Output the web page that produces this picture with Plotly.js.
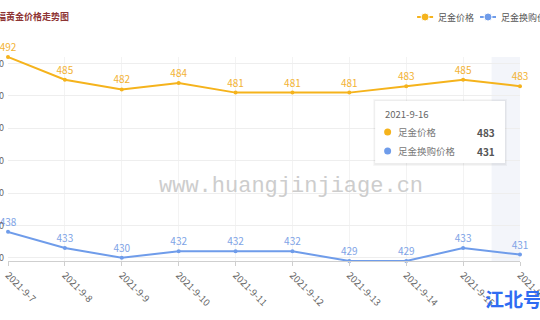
<!DOCTYPE html>
<html>
<head>
<meta charset="utf-8">
<script src="https://cdn.plot.ly/plotly-3.0.1.min.js"></script>
<style>html,body{margin:0;padding:0;background:#fff;}#chart{width:540px;height:320px;}</style>
</head>
<body>
<div id="chart"></div>
<script>
const dates = ["2021-9-7","2021-9-8","2021-9-9","2021-9-10","2021-9-11","2021-9-12","2021-9-13","2021-9-14","2021-9-15","2021-9-16"];
const goldPrice = [492,485,482,484,481,481,481,483,485,483];
const exchangePrice = [438,433,430,432,432,432,429,429,433,431];
const seriesNames = ["足金价格","足金换购价格"];
const yTicks = [430,440,450,460,470,480,490];
const hoverIndex = 9;

const orange = "#f5b31c";
const blue = "#6f9cea";
const W = 540, H = 320;
const m = {l: 7.5, r: 20, t: 57, b: 59};
const pw = W - m.l - m.r, ph = H - m.t - m.b;
const px = x => (x - m.l) / pw;
const py = y => (H - m.b - y) / ph;

const traces = [
  {x: dates, y: goldPrice, name: seriesNames[0], type: "scatter", mode: "lines+markers+text",
   line: {color: orange, width: 2}, marker: {color: orange, size: 4},
   text: goldPrice.map(String), textposition: "top center",
   textfont: {color: "#f2b233", size: 10, family: "Noto Sans CJK SC, sans-serif"}, cliponaxis: false, hoverinfo: "none"},
  {x: dates, y: exchangePrice, name: seriesNames[1], type: "scatter", mode: "lines+markers+text",
   line: {color: blue, width: 2}, marker: {color: blue, size: 4},
   text: exchangePrice.map(String), textposition: "top center",
   textfont: {color: "#7ea3e6", size: 10, family: "Noto Sans CJK SC, sans-serif"}, cliponaxis: false, hoverinfo: "none"}
];

const font = "Noto Sans CJK SC, sans-serif";
const shapes = [
  {type: "rect", xref: "x", yref: "paper", x0: hoverIndex - 0.5, x1: hoverIndex + 0.5, y0: 0, y1: 1,
   fillcolor: "#f3f5fa", line: {width: 0}, layer: "below"},
  {type: "rect", xref: "paper", yref: "paper", x0: px(373), x1: px(507), y0: py(166), y1: py(99),
   fillcolor: "rgba(0,0,0,0.035)", line: {width: 0}, layer: "above"},
  {type: "rect", xref: "paper", yref: "paper", x0: px(374), x1: px(506), y0: py(165), y1: py(100),
   fillcolor: "rgba(0,0,0,0.035)", line: {width: 0}, layer: "above"},
  {type: "rect", xref: "paper", yref: "paper", x0: px(375), x1: px(505), y0: py(163), y1: py(101),
   fillcolor: "#ffffff", line: {width: 0}, layer: "above"},
  {type: "circle", xref: "paper", yref: "paper", x0: px(384), x1: px(391), y0: py(135.5), y1: py(128.5),
   fillcolor: orange, line: {width: 0}, layer: "above"},
  {type: "circle", xref: "paper", yref: "paper", x0: px(384), x1: px(391), y0: py(154.5), y1: py(147.5),
   fillcolor: blue, line: {width: 0}, layer: "above"},
  {type: "line", xref: "paper", yref: "paper", x0: px(417), x1: px(433), y0: py(17), y1: py(17),
   line: {color: orange, width: 2}},
  {type: "circle", xref: "paper", yref: "paper", x0: px(421), x1: px(429), y0: py(21), y1: py(13),
   fillcolor: orange, line: {color: "#fff", width: 1}},
  {type: "line", xref: "paper", yref: "paper", x0: px(480), x1: px(496), y0: py(17), y1: py(17),
   line: {color: blue, width: 2}},
  {type: "circle", xref: "paper", yref: "paper", x0: px(484), x1: px(492), y0: py(21), y1: py(13),
   fillcolor: blue, line: {color: "#fff", width: 1}}
];

const ann = (x, y, text, opts) => Object.assign({xref: "paper", yref: "paper", x: px(x), y: py(y),
  text: text, showarrow: false, xanchor: "left", yanchor: "middle", font: {family: font, size: 9, color: "#555"}}, opts || {});

const annotations = [
  ann(-15, 16, "<b>大福黄金价格走势图</b>", {font: {family: font, size: 9, color: "#8e3434"}}),
  ann(436, 17, seriesNames[0], {font: {family: font, size: 9, color: "#555"}}),
  ann(499, 17, seriesNames[1], {font: {family: font, size: 9, color: "#555"}}),
  ann(291, 186, "www.huangjinjiage.cn", {xanchor: "center", font: {family: "Liberation Mono, monospace", size: 22, color: "#cdcdcd"}}),
  ann(383, 114, dates[hoverIndex], {font: {family: font, size: 9.5, color: "#666"}}),
  ann(396, 132, seriesNames[0], {font: {family: font, size: 9.5, color: "#777"}}),
  ann(396, 151, seriesNames[1], {font: {family: font, size: 9.5, color: "#777"}}),
  ann(497, 132, "<b>" + goldPrice[hoverIndex] + "</b>", {xanchor: "right", font: {family: font, size: 10, color: "#555"}}),
  ann(497, 151, "<b>" + exchangePrice[hoverIndex] + "</b>", {xanchor: "right", font: {family: font, size: 10, color: "#555"}}),
  ann(513, 298, "<b>江北号</b>", {xanchor: "center", font: {family: font, size: 19, color: "#2f6cf2"}})
];

const layout = {
  width: W, height: H, margin: m, showlegend: false,
  paper_bgcolor: "#fff", plot_bgcolor: "rgba(0,0,0,0)",
  xaxis: {type: "category", range: [0, dates.length - 1], showgrid: true, gridcolor: "#f3f3f3",
    showline: true, linecolor: "#cfcfcf", linewidth: 1, ticks: "outside", ticklen: 4, tickcolor: "#cfcfcf",
    tickangle: 45, tickfont: {family: font, size: 9.5, color: "#666"}, zeroline: false, fixedrange: true},
  yaxis: {range: [429, 492], tickvals: yTicks, showgrid: true, gridcolor: "#eeeeee", zeroline: false,
    showline: false, ticks: "", ticklabelstandoff: 3, tickfont: {family: font, size: 9, color: "#666"}, automargin: false},
  shapes: shapes, annotations: annotations, hovermode: false
};

Plotly.newPlot("chart", traces, layout, {displayModeBar: false, staticPlot: true});
</script>
</body>
</html>
